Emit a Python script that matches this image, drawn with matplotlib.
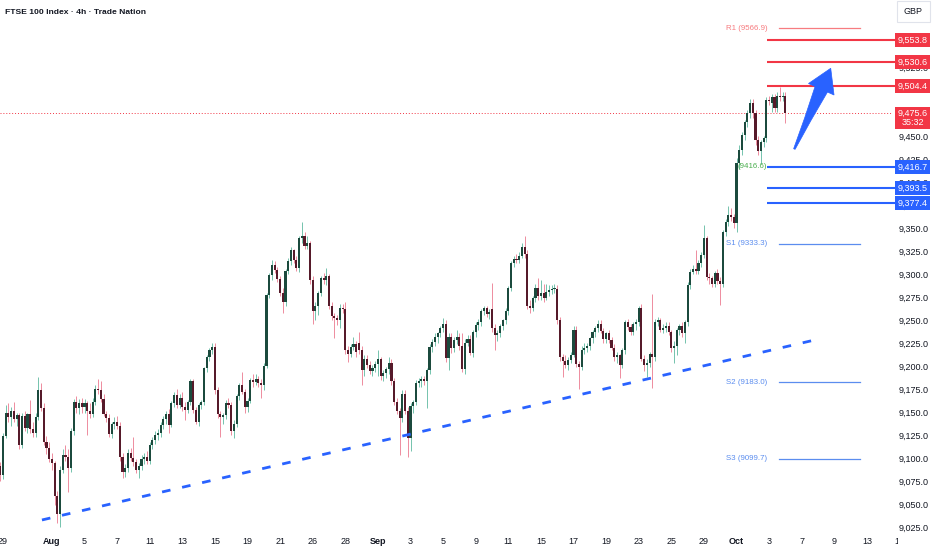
import matplotlib
matplotlib.use("Agg")
import matplotlib.pyplot as plt
import numpy as np
from matplotlib.patches import Rectangle, Polygon
from matplotlib.transforms import (blended_transform_factory, IdentityTransform,
                                   Bbox, TransformedBbox)
from matplotlib.ticker import FuncFormatter, FixedLocator

FONT = ['Liberation Sans', 'DejaVu Sans']
plt.rcParams['font.family'] = FONT

TITLE = "FTSE 100 Index · 4h · Trade Nation"
BARS_PER_DAY = 6

# x labels: trading-day index counted from 29 Jul
xtick_days = [0, 3, 5, 7, 9, 11, 13, 15, 17, 19, 21, 23, 25, 27, 29, 31, 33,
              35, 37, 39, 41, 43, 45, 47, 49, 51, 53, 55]
xtick_labels = ["29", "Aug", "5", "7", "11", "13", "15", "19", "21", "26", "28",
                "Sep", "3", "5", "9", "11", "15", "17", "19", "23", "25", "29",
                "Oct", "3", "7", "9", "13", "15"]
month_labels = ["Aug", "Sep", "Oct"]

# 4h candles: one bar of 28 Jul, then 6 bars per trading day from 29 Jul to 3 Oct, then 1 bar of 6 Oct
opens = [9092,
    9082, 9125, 9150, 9145, 9152, 9143,
    9147, 9115, 9146, 9133, 9148, 9132,
    9128, 9145, 9174, 9155, 9118, 9112,
    9100, 9095, 9060, 9040, 9088, 9104,
    9102, 9090, 9130, 9162, 9155, 9160,
    9156, 9160, 9152, 9148, 9162, 9176,
    9174, 9165, 9148, 9144, 9127, 9138,
    9140, 9136, 9102, 9086, 9090, 9106,
    9101, 9096, 9088, 9092, 9100, 9102,
    9098, 9115, 9120, 9126, 9128, 9137,
    9143, 9149, 9137, 9160, 9169, 9158,
    9166, 9156, 9153, 9161, 9184, 9153,
    9140, 9158, 9161, 9198, 9210, 9218,
    9221, 9174, 9148, 9145, 9147, 9160,
    9158, 9130, 9138, 9168, 9180, 9172,
    9156, 9163, 9185, 9183, 9187, 9182,
    9180, 9201, 9278, 9299, 9310, 9305,
    9295, 9280, 9270, 9304, 9314, 9326,
    9316, 9307, 9339, 9342, 9331, 9334,
    9294, 9260, 9266, 9280, 9296, 9294,
    9298, 9266, 9255, 9253, 9250, 9264,
    9262, 9218, 9214, 9221, 9224, 9226,
    9218, 9196, 9208, 9202, 9195, 9198,
    9203, 9208, 9190, 9193, 9197, 9204,
    9184, 9162, 9152, 9144, 9170, 9152,
    9122, 9157, 9161, 9182, 9184, 9186,
    9184, 9196, 9221, 9227, 9232, 9236,
    9242, 9246, 9209, 9232, 9220, 9229,
    9232, 9222, 9197, 9226, 9230, 9215,
    9237, 9245, 9248, 9260, 9263, 9257,
    9262, 9242, 9234, 9236, 9244, 9250,
    9260, 9285, 9312, 9317, 9316, 9320,
    9330, 9322, 9266, 9264, 9274, 9285,
    9276, 9280, 9274, 9281, 9283, 9284,
    9284, 9250, 9210, 9206, 9202, 9207,
    9213, 9240, 9203, 9200, 9218, 9220,
    9222, 9231, 9237, 9242, 9246, 9239,
    9230, 9236, 9229, 9220, 9210, 9212,
    9202, 9218, 9248, 9243, 9238, 9246,
    9248, 9264, 9208, 9202, 9204, 9214,
    9210, 9248, 9250, 9240, 9242, 9244,
    9237, 9220, 9222, 9240, 9244, 9236,
    9248, 9289, 9303, 9306, 9304, 9312,
    9321, 9340, 9297, 9296, 9290, 9302,
    9293, 9290, 9346, 9357, 9364, 9362,
    9356, 9421, 9435, 9451, 9465, 9475,
    9486, 9475, 9446, 9434, 9444, 9448,
    9489, 9486, 9492, 9480, 9494, 9492,
    9494]
highs = [9096,
    9128, 9158, 9160, 9156, 9162, 9150,
    9150, 9150, 9152, 9150, 9164, 9140,
    9150, 9189, 9182, 9160, 9125, 9118,
    9106, 9098, 9065, 9092, 9110, 9115,
    9110, 9133, 9165, 9168, 9165, 9166,
    9165, 9163, 9160, 9166, 9180, 9186,
    9184, 9170, 9152, 9148, 9140, 9145,
    9146, 9140, 9106, 9094, 9110, 9112,
    9124, 9100, 9095, 9104, 9106, 9108,
    9118, 9124, 9130, 9132, 9140, 9146,
    9152, 9154, 9163, 9172, 9176, 9170,
    9172, 9162, 9164, 9187, 9186, 9156,
    9160, 9164, 9200, 9212, 9220, 9226,
    9226, 9178, 9152, 9150, 9164, 9166,
    9162, 9142, 9170, 9182, 9194, 9176,
    9166, 9188, 9192, 9192, 9190, 9186,
    9204, 9280, 9302, 9316, 9314, 9308,
    9298, 9285, 9306, 9318, 9330, 9328,
    9320, 9342, 9357, 9346, 9342, 9336,
    9298, 9270, 9282, 9298, 9302, 9307,
    9300, 9270, 9258, 9256, 9268, 9268,
    9270, 9222, 9224, 9232, 9228, 9238,
    9222, 9212, 9212, 9206, 9202, 9206,
    9218, 9210, 9196, 9200, 9210, 9208,
    9188, 9166, 9155, 9174, 9174, 9156,
    9160, 9164, 9185, 9188, 9190, 9190,
    9198, 9224, 9230, 9236, 9238, 9244,
    9253, 9250, 9236, 9236, 9232, 9240,
    9236, 9236, 9230, 9234, 9234, 9240,
    9248, 9252, 9262, 9266, 9266, 9262,
    9291, 9246, 9240, 9246, 9252, 9264,
    9287, 9314, 9320, 9322, 9324, 9334,
    9342, 9326, 9272, 9276, 9290, 9296,
    9294, 9290, 9290, 9288, 9288, 9290,
    9288, 9254, 9214, 9212, 9210, 9216,
    9244, 9244, 9206, 9222, 9226, 9226,
    9232, 9240, 9244, 9250, 9250, 9242,
    9238, 9240, 9232, 9224, 9216, 9214,
    9220, 9250, 9252, 9246, 9248, 9252,
    9266, 9268, 9212, 9208, 9216, 9279,
    9252, 9254, 9253, 9246, 9248, 9248,
    9240, 9228, 9242, 9246, 9248, 9250,
    9292, 9306, 9310, 9326, 9316, 9324,
    9354, 9342, 9302, 9298, 9304, 9306,
    9297, 9348, 9360, 9374, 9372, 9365,
    9426, 9440, 9454, 9468, 9478, 9490,
    9490, 9478, 9450, 9446, 9450, 9492,
    9494, 9496, 9496, 9498, 9503, 9498,
    9498]
lows = [9076,
    9078, 9122, 9140, 9136, 9140, 9135,
    9110, 9112, 9130, 9128, 9128, 9124,
    9124, 9142, 9152, 9115, 9105, 9096,
    9088, 9050, 9030, 9026, 9084, 9098,
    9064, 9086, 9126, 9150, 9148, 9150,
    9150, 9126, 9144, 9145, 9158, 9170,
    9162, 9146, 9140, 9124, 9122, 9132,
    9132, 9098, 9079, 9080, 9086, 9098,
    9092, 9084, 9079, 9088, 9094, 9094,
    9094, 9110, 9116, 9120, 9124, 9132,
    9138, 9128, 9134, 9156, 9155, 9155,
    9152, 9142, 9150, 9158, 9150, 9138,
    9136, 9154, 9158, 9194, 9206, 9214,
    9170, 9144, 9123, 9138, 9143, 9155,
    9126, 9122, 9134, 9164, 9170, 9150,
    9151, 9160, 9178, 9180, 9178, 9166,
    9174, 9198, 9274, 9294, 9302, 9292,
    9276, 9258, 9266, 9300, 9310, 9312,
    9304, 9303, 9334, 9328, 9328, 9290,
    9246, 9250, 9256, 9276, 9290, 9288,
    9262, 9250, 9231, 9245, 9242, 9258,
    9214, 9205, 9210, 9218, 9210, 9214,
    9180, 9190, 9198, 9192, 9190, 9194,
    9190, 9185, 9184, 9188, 9192, 9180,
    9158, 9148, 9104, 9140, 9148, 9102,
    9108, 9150, 9158, 9178, 9178, 9180,
    9155, 9192, 9216, 9222, 9226, 9232,
    9238, 9205, 9196, 9215, 9216, 9224,
    9218, 9194, 9192, 9222, 9212, 9210,
    9232, 9240, 9244, 9256, 9254, 9252,
    9238, 9218, 9228, 9232, 9240, 9246,
    9256, 9282, 9308, 9312, 9312, 9318,
    9318, 9262, 9258, 9260, 9270, 9272,
    9272, 9270, 9272, 9276, 9279, 9280,
    9246, 9206, 9189, 9198, 9196, 9204,
    9210, 9200, 9176, 9196, 9214, 9216,
    9218, 9226, 9232, 9238, 9236, 9226,
    9226, 9226, 9218, 9206, 9204, 9188,
    9198, 9214, 9240, 9234, 9234, 9240,
    9244, 9206, 9195, 9189, 9200, 9177,
    9206, 9244, 9238, 9236, 9238, 9234,
    9216, 9204, 9212, 9234, 9232, 9226,
    9244, 9284, 9300, 9300, 9300, 9308,
    9318, 9294, 9290, 9286, 9286, 9290,
    9267, 9286, 9342, 9352, 9358, 9350,
    9346, 9414, 9430, 9446, 9460, 9470,
    9470, 9440, 9430, 9420, 9438, 9444,
    9484, 9476, 9476, 9476, 9488, 9488,
    9464]
closes = [9082,
    9125, 9150, 9145, 9152, 9143, 9147,
    9115, 9146, 9133, 9148, 9132, 9128,
    9145, 9174, 9155, 9118, 9112, 9100,
    9095, 9060, 9040, 9088, 9104, 9102,
    9090, 9130, 9162, 9155, 9160, 9156,
    9160, 9152, 9148, 9162, 9176, 9174,
    9165, 9148, 9144, 9127, 9138, 9140,
    9136, 9102, 9086, 9090, 9106, 9101,
    9096, 9088, 9092, 9100, 9102, 9098,
    9115, 9120, 9126, 9128, 9137, 9143,
    9149, 9137, 9160, 9169, 9158, 9166,
    9156, 9153, 9161, 9184, 9153, 9140,
    9158, 9161, 9198, 9210, 9218, 9221,
    9174, 9148, 9145, 9147, 9160, 9158,
    9130, 9138, 9168, 9180, 9172, 9156,
    9163, 9185, 9183, 9187, 9182, 9180,
    9201, 9278, 9299, 9310, 9305, 9295,
    9280, 9270, 9304, 9314, 9326, 9316,
    9307, 9339, 9342, 9331, 9334, 9294,
    9260, 9266, 9280, 9296, 9294, 9298,
    9266, 9255, 9253, 9250, 9264, 9262,
    9218, 9214, 9221, 9224, 9216, 9218,
    9196, 9208, 9202, 9195, 9198, 9203,
    9208, 9190, 9193, 9197, 9204, 9184,
    9162, 9152, 9144, 9170, 9152, 9122,
    9157, 9161, 9182, 9184, 9186, 9184,
    9196, 9221, 9227, 9232, 9236, 9242,
    9246, 9209, 9232, 9220, 9229, 9232,
    9222, 9197, 9226, 9230, 9215, 9237,
    9245, 9248, 9260, 9263, 9257, 9259,
    9242, 9234, 9236, 9244, 9250, 9260,
    9285, 9312, 9317, 9316, 9320, 9330,
    9322, 9266, 9264, 9274, 9285, 9276,
    9280, 9274, 9281, 9283, 9284, 9284,
    9250, 9210, 9206, 9202, 9207, 9213,
    9240, 9203, 9200, 9218, 9220, 9222,
    9231, 9237, 9242, 9246, 9239, 9230,
    9236, 9229, 9220, 9210, 9212, 9202,
    9218, 9248, 9243, 9238, 9246, 9248,
    9264, 9208, 9202, 9204, 9214, 9210,
    9248, 9250, 9240, 9242, 9244, 9237,
    9220, 9222, 9240, 9244, 9236, 9248,
    9289, 9303, 9306, 9304, 9312, 9321,
    9340, 9297, 9296, 9290, 9302, 9293,
    9290, 9346, 9357, 9364, 9362, 9356,
    9421, 9435, 9451, 9465, 9475, 9486,
    9475, 9446, 9434, 9444, 9448, 9489,
    9488, 9492, 9480, 9494, 9492, 9494,
    9475.6]

last_price = 9475.6
countdown = "35:32"
resistance_levels = [9553.8, 9530.6, 9504.4]
support_levels = [9416.7, 9393.5, 9377.4]
support_note = "(9416.6)"
pivot_names = ["R1", "S1", "S2", "S3"]
pivot_values = [9566.9, 9333.3, 9183.0, 9099.7]
trend_days = [2.39, 49.8]
trend_prices = [9033.5, 9228.8]
arrow_tail = (48.55, 9436.0)
arrow_tip = (50.78, 9523.6)
level_start_day = 46.85
level_end_day = 54.75
pivot_line_days = [47.6, 52.6]
hidden_price_ticks = [9575, 9550, 9500, 9475]

# ---- styling ----
RED = '#f23645'
BLUE = '#2962ff'
UP_BODY, DOWN_BODY = '#1b4a3d', '#561a2a'
UP_WICK, DOWN_WICK = '#74c3ad', '#ee8c9e'
TXT = '#131722'
AX_FS = 6.5

W, H = 932, 550
fig = plt.figure(figsize=(W / 100, H / 100), dpi=100)
fig.patch.set_facecolor('white')
ax = fig.add_axes([0, 15 / H, 893 / W, 535 / H])
ax.set_facecolor('white')
for s in ax.spines.values():
    s.set_visible(False)

o = np.array(opens, float)
h = np.array(highs, float)
l = np.array(lows, float)
c = np.array(closes, float)
pos = (np.arange(len(c)) - 1) / BARS_PER_DAY
up = c >= o
ax.vlines(pos, l, h, colors=np.where(up, UP_WICK, DOWN_WICK), linewidth=0.7, zorder=2)
body_h = np.maximum(np.abs(c - o), 0.9)
ax.bar(pos, body_h, bottom=np.minimum(o, c), width=0.78 / BARS_PER_DAY,
       color=np.where(up, UP_BODY, DOWN_BODY), linewidth=0, zorder=3)

# trend line
ax.plot(trend_days, trend_prices, color=BLUE, lw=2.0, dashes=(3.1, 4.3),
        solid_capstyle='butt', dash_capstyle='butt', zorder=4)

# current price dotted
ax.axhline(last_price, color=RED, lw=0.7, ls=(0, (1, 2)), zorder=1)

# resistance & support lines
for v in resistance_levels:
    ax.plot([level_start_day, level_end_day], [v, v], color=RED, lw=1.5, zorder=5,
            clip_on=False, solid_capstyle='butt')
for v in support_levels:
    ax.plot([level_start_day, level_end_day], [v, v], color=BLUE, lw=1.5, zorder=5,
            clip_on=False, solid_capstyle='butt')
ax.text(level_start_day + 0.05, support_levels[0], support_note, color='#4caf50',
        fontsize=5.7, ha='right', va='center', zorder=6)

# pivot lines
for name, v in zip(pivot_names, pivot_values):
    col = '#f77c80' if name.startswith('R') else '#5b8def'
    ax.plot(pivot_line_days, [v, v], color=col, lw=0.9, zorder=4)
    ax.text(level_start_day + 0.05, v, f"{name} ({v:.1f})", color=col, fontsize=5.7,
            ha='right', va='center', zorder=6)

# y axis on the right
ax.yaxis.tick_right()
ax.yaxis.set_major_locator(FixedLocator(np.arange(9025, 9600, 25)))
ax.yaxis.set_major_formatter(FuncFormatter(
    lambda v, p: '' if round(v) in hidden_price_ticks else f"{v:,.1f}"))
ax.tick_params(axis='y', length=0, pad=4.0, labelsize=AX_FS, labelcolor=TXT)

# x axis
ax.set_xticks(xtick_days)
ax.set_xticklabels(xtick_labels)
ax.tick_params(axis='x', length=0, pad=1.2, labelsize=AX_FS, labelcolor=TXT)
for lab in ax.get_xticklabels():
    if lab.get_text() in month_labels:
        lab.set_fontweight('bold')

# view limits (set after the ticks so they are not widened)
ax.set_xlim(-3 / 16.3, 890 / 16.3)
ax.set_ylim(9017.2, 9597.7)

# a date label that falls under the price scale is shown cut, as on the reference
xmax = ax.get_xlim()[1]
xblend = blended_transform_factory(ax.transData, ax.transAxes)
cut_box = TransformedBbox(Bbox([[0, 0], [898 / W, 1]]), fig.transFigure)
for dday, lab in zip(xtick_days, xtick_labels):
    if dday > xmax:
        t = ax.text(dday, -1.2 / 72 * 100 / 535 - 0.001, lab, transform=xblend,
                    ha='center', va='top', fontsize=AX_FS, color=TXT, clip_on=True)
        t.set_clip_box(cut_box)

# price boxes on the scale
blend = blended_transform_factory(fig.transFigure, ax.transData)
box_h = 14 / 0.9216

def price_box(v, color, top=None, bottom=None):
    t = v + box_h / 2 if top is None else top
    b = v - box_h / 2 if bottom is None else bottom
    ax.add_patch(Rectangle((895 / W, b), 35 / W, t - b, transform=blend,
                           facecolor=color, edgecolor='none', clip_on=False, zorder=10))

for v in resistance_levels:
    price_box(v, RED)
    ax.text(913 / W, v, f"{v:,.1f}", transform=blend, color='white', fontsize=AX_FS,
            ha='center', va='center', clip_on=False, zorder=11)
for v in support_levels:
    price_box(v, BLUE)
    ax.text(913 / W, v, f"{v:,.1f}", transform=blend, color='white', fontsize=AX_FS,
            ha='center', va='center', clip_on=False, zorder=11)
price_box(last_price, RED, top=last_price + 6.0, bottom=last_price - 17.5)
ax.text(913 / W, last_price - 0.5, f"{last_price:,.1f}", transform=blend, color='white',
        fontsize=AX_FS, ha='center', va='center', clip_on=False, zorder=11)
ax.text(913 / W, last_price - 11.0, countdown, transform=blend, color='white',
        fontsize=AX_FS, ha='center', va='center', clip_on=False, zorder=11)

# GBP box
fig.patches.append(Rectangle((897 / W, 1 - 22 / H), 33 / W, 21.5 / H, transform=fig.transFigure,
                             facecolor='white', edgecolor='#e0e3eb', lw=0.8, zorder=12))
fig.text(913.5 / W, 1 - 12 / H, "GBP", color=TXT, fontsize=AX_FS, ha='center', va='center',
         zorder=13)

# title
fig.text(5 / W, 1 - 12 / H, TITLE, color=TXT, fontsize=6.1, ha='left', va='center',
         fontweight='bold')

# arrow drawn in pixel space from its data-space endpoints
fig.canvas.draw()
T = ax.transData.transform(arrow_tail)
P = ax.transData.transform(arrow_tip)
d = P - T
L = np.hypot(*d)
u = d / L
n = np.array([-u[1], u[0]])
head = 23.0
base = T + u * (L - head)
mid = T + u * (L - head) * 0.5
pts = [T + n * 0.8, mid + n * 3.4, base + n * 6.8, base + n * 14, P,
       base - n * 14, base - n * 6.8, mid - n * 3.4, T - n * 0.8]
fig.patches.append(Polygon(pts, closed=True, transform=IdentityTransform(),
                           facecolor=BLUE, edgecolor=BLUE, lw=0.5, zorder=9))

fig.savefig('out.png', dpi=100)
